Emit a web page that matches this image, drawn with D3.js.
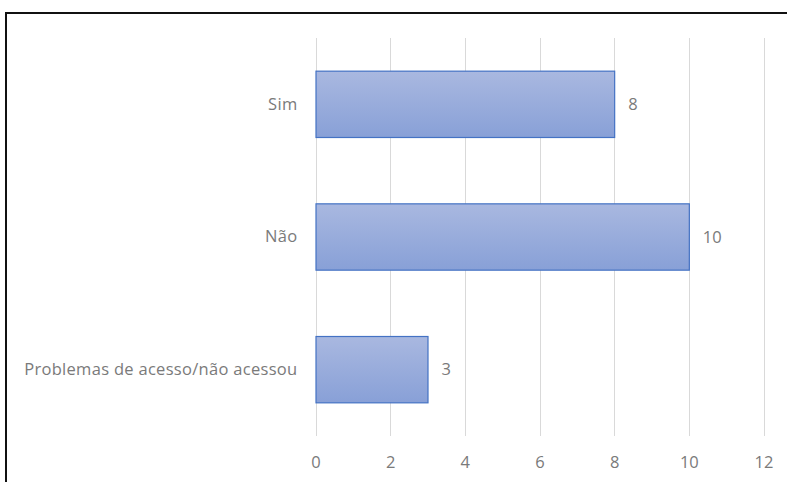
<!DOCTYPE html>
<html>
<head>
<meta charset="utf-8">
<script src="https://cdn.jsdelivr.net/npm/d3@7"></script>
<style>
  html, body { margin: 0; padding: 0; background: #fff; }
  svg { display: block; }
</style>
</head>
<body>
<svg id="chart" width="787" height="482"></svg>
<script>
const categories = ["Sim", "Não", "Problemas de acesso/não acessou"];
const values = [8, 10, 3];
const tickValues = [0, 2, 4, 6, 8, 10, 12];

const svg = d3.select("#chart");
const W = 787, H = 482;
const margin = { left: 315.5, right: 23.5, top: 38, bottom: 46 };
const font = "'Open Sans', 'Noto Sans', sans-serif";
const textColor = "#7a7a7a";
const fontSize = 16.5;

// outer frame
svg.append("rect").attr("x", 6).attr("y", 13).attr("width", W + 20).attr("height", H + 20)
  .attr("fill", "#fff").attr("stroke", "#111").attr("stroke-width", 2);

const x = d3.scaleLinear().domain([0, 12]).range([margin.left, W - margin.right]);
const y = d3.scaleBand().domain(categories).range([margin.top, H - margin.bottom])
  .paddingInner(0.5).paddingOuter(0.25);

const defs = svg.append("defs");
const grad = defs.append("linearGradient").attr("id", "barFill")
  .attr("x1", 0).attr("y1", 0).attr("x2", 0).attr("y2", 1);
grad.append("stop").attr("offset", "0%").attr("stop-color", "#a9b8e0");
grad.append("stop").attr("offset", "100%").attr("stop-color", "#88a0d7");

// vertical gridlines
svg.append("g").selectAll("line").data(tickValues).join("line")
  .attr("x1", d => Math.round(x(d)) + 0.5).attr("x2", d => Math.round(x(d)) + 0.5)
  .attr("y1", margin.top).attr("y2", H - margin.bottom)
  .attr("stroke", "#d9d9d9").attr("stroke-width", 1);

// x axis tick labels
const xAxis = d3.axisBottom(x).tickValues(tickValues).tickSize(0).tickPadding(0);
const gx = svg.append("g").attr("transform", `translate(0, ${H - margin.bottom + 32})`).call(xAxis);
gx.select(".domain").remove();
gx.selectAll("text").attr("fill", textColor).attr("font-family", font).attr("font-size", fontSize).attr("dy", 0);

// category labels
const yAxis = d3.axisLeft(y).tickSize(0).tickPadding(18);
const gy = svg.append("g").attr("transform", `translate(${margin.left}, 0)`).call(yAxis);
gy.select(".domain").remove();
gy.selectAll("text").attr("fill", textColor).attr("font-family", font).attr("font-size", fontSize)
  .attr("letter-spacing", 0.3);

// bars
svg.append("g").selectAll("rect").data(values).join("rect")
  .attr("x", x(0) + 0.5)
  .attr("y", (d, i) => y(categories[i]))
  .attr("width", d => x(d) - x(0))
  .attr("height", y.bandwidth())
  .attr("fill", "url(#barFill)")
  .attr("stroke", "#4472c4").attr("stroke-width", 1.2);

// value labels
svg.append("g").selectAll("text").data(values).join("text")
  .attr("x", d => x(d) + 14)
  .attr("y", (d, i) => y(categories[i]) + y.bandwidth() / 2)
  .attr("dy", "0.35em")
  .attr("fill", textColor).attr("font-family", font).attr("font-size", fontSize)
  .text(d => d);
</script>
</body>
</html>
